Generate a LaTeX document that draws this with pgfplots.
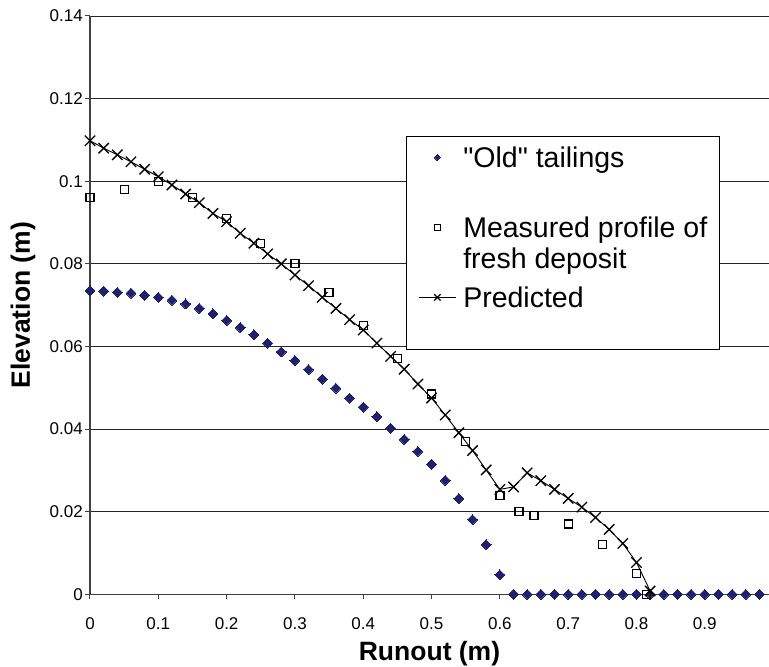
\documentclass[border=0pt]{standalone}
\usepackage{fontspec}
\setmainfont{Liberation Sans}[Ligatures=TeXOff]
\usepackage{pgfplots}
\pgfplotsset{compat=1.18}
\definecolor{navy}{RGB}{32,32,112}
\begin{document}
\begin{tikzpicture}
\begin{axis}[
  name=ax,
  scale only axis,
  width=679pt, height=578.3pt,
  xmin=0, xmax=0.994, ymin=0, ymax=0.14,
  axis x line*=bottom, axis y line*=left,
  axis line style={black!75, line width=1.2pt},
  xtick={0,0.1,0.2,0.3,0.4,0.5,0.6,0.7,0.8,0.9},
  ytick={0,0.02,0.04,0.06,0.08,0.1,0.12,0.14},
  scaled ticks=false,
  /pgf/number format/assume math mode=true,
  /pgf/number format/fixed,
  /pgf/number format/precision=2,
  tick align=outside, major tick length=5pt,
  tick style={black!75, line width=1pt},
  ymajorgrids,
  major grid style={black!85, line width=0.8pt},
  ticklabel style={font=\fontsize{17}{19}\selectfont},
  yticklabel style={inner sep=3pt, xshift=1pt},
  xticklabel style={inner sep=3pt, yshift=-30pt, anchor=base},
  xlabel={Runout (m)},
  ylabel={Elevation (m)},
  label style={font=\bfseries\fontsize{26.5}{30}\selectfont},
  xlabel style={at={(axis description cs:0.5,-0.1141)}, anchor=base},
  ylabel style={at={(axis description cs:-0.0884,0.5)}, anchor=base, rotate=0},
  clip=false,
  legend style={at={(axis description cs:0.4654,0.7925)}, anchor=north west,
    draw=black, line width=0.8pt, fill=white,
    inner xsep=12pt, inner ysep=0pt, column sep=7pt, row sep=0pt,
    font=\fontsize{28.5}{30}\selectfont,
    nodes={inner sep=0pt},
    cells={anchor=base west}},
  legend image code/.code={\draw[mark repeat=2,mark phase=2,#1] plot coordinates {(0pt,10pt)(18.5pt,10pt)(37pt,10pt)};},
]
\addplot[only marks, mark=square*, mark size=3.5pt, color=navy, mark options={rotate=45, fill=navy, draw=navy, line width=0pt},
  legend image post style={mark size=2.2pt}] coordinates {
(0,0.0735)(0.02,0.0734)(0.04,0.0731)(0.06,0.0729)(0.08,0.0724)(0.10,0.0719)
(0.12,0.0712)(0.14,0.0703)(0.16,0.0692)(0.18,0.0679)(0.20,0.0663)(0.22,0.0646)
(0.24,0.0628)(0.26,0.0608)(0.28,0.0587)(0.30,0.0566)(0.32,0.0544)(0.34,0.0521)
(0.36,0.0499)(0.38,0.0475)(0.40,0.0453)(0.42,0.0430)(0.44,0.0402)(0.46,0.0375)
(0.48,0.0346)(0.50,0.0315)(0.52,0.0276)(0.54,0.0232)(0.56,0.0181)(0.58,0.0120)
(0.60,0.0047)(0.62,0)(0.64,0)(0.66,0)(0.68,0)(0.70,0)(0.72,0)(0.74,0)(0.76,0)
(0.78,0)(0.80,0)(0.82,0)(0.84,0)(0.86,0)(0.88,0)(0.90,0)(0.92,0)(0.94,0)(0.96,0)(0.98,0)
};
\addlegendentry[text height=31pt, text depth=35pt]{"Old" tailings}
\addplot[only marks, mark=square, mark size=4pt, color=black, mark options={line width=1.3pt},
  legend image post style={mark size=3pt, line width=1pt}] coordinates {
(0,0.096)(0.05,0.098)(0.10,0.100)(0.15,0.096)(0.20,0.091)(0.25,0.085)(0.30,0.080)
(0.35,0.073)(0.40,0.065)(0.45,0.057)(0.50,0.0485)(0.55,0.037)(0.60,0.024)
(0.628,0.020)(0.65,0.019)(0.70,0.017)(0.75,0.012)(0.80,0.005)(0.815,0.000)
};
\addlegendentry[text height=35pt, text depth=15pt]{Measured profile of}
\addlegendimage{empty legend}
\addlegendentry[text height=16pt, text depth=20pt]{fresh deposit}
\addplot[color=black, line width=0.9pt, mark=x, mark size=7.3pt, mark options={line width=1.3pt},
  legend image post style={mark size=4.5pt}] coordinates {
(0,0.1098)(0.02,0.1080)(0.04,0.1064)(0.06,0.1047)(0.08,0.1029)(0.10,0.1011)
(0.12,0.0991)(0.14,0.0969)(0.16,0.0948)(0.18,0.0922)(0.20,0.0902)(0.22,0.0874)
(0.24,0.0850)(0.26,0.0824)(0.28,0.0800)(0.30,0.0773)(0.32,0.0747)(0.34,0.0719)
(0.36,0.0692)(0.38,0.0665)(0.40,0.0640)(0.42,0.0608)(0.44,0.0576)(0.46,0.0545)
(0.48,0.0509)(0.50,0.0475)(0.52,0.0434)(0.54,0.0391)(0.56,0.0348)(0.58,0.0301)
(0.60,0.0254)(0.62,0.0260)(0.64,0.0294)(0.66,0.0275)(0.68,0.0254)(0.70,0.0232)
(0.72,0.0211)(0.74,0.0186)(0.76,0.0157)(0.78,0.0123)(0.80,0.0077)(0.82,0.0008)
};
\addlegendentry[text height=19pt, text depth=42pt]{Predicted}
\end{axis}
\pgfresetboundingbox
\path ([shift={(-90pt,-72.7pt)}]ax.south west) rectangle ++(769pt,667pt);
\end{tikzpicture}
\end{document}
